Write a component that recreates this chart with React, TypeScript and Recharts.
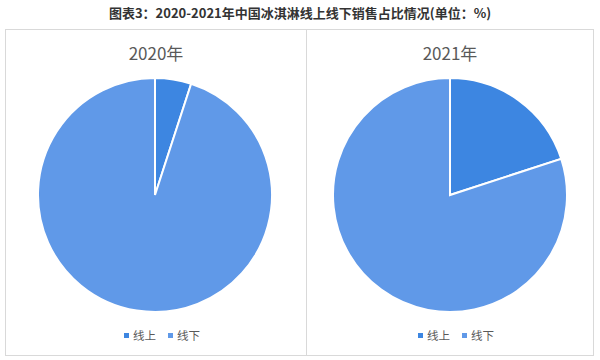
import { PieChart, Pie, Cell, Legend } from "recharts";

// 线上 / 线下 share of ice-cream sales, %
const channels = ["线上", "线下"];
const colors = ["#3d86e1", "#6099e8"];
const share2020 = [5, 95];
const share2021 = [20, 80];
const years = ["2020年", "2021年"];

const FONT = '"Noto Sans CJK SC", "Noto Sans", sans-serif';

function LegendRow({ payload }: any) {
  return (
    <div
      style={{
        display: "flex",
        justifyContent: "center",
        gap: 12,
        fontSize: 11.5,
        color: "#595959",
        fontFamily: FONT,
        lineHeight: "14px",
      }}
    >
      {(payload || []).map((p: any) => (
        <span key={p.value} style={{ display: "flex", alignItems: "center" }}>
          <span
            style={{
              width: 5,
              height: 5,
              background: p.color,
              marginRight: 4,
              display: "inline-block",
            }}
          />
          {p.value}
        </span>
      ))}
    </div>
  );
}

function YearPie({
  year,
  values,
  left,
  width,
  cx,
}: {
  year: string;
  values: number[];
  left: number;
  width: number;
  cx: number;
}) {
  const data = channels.map((name, i) => ({ name, value: values[i] }));
  return (
    <div
      style={{
        position: "absolute",
        left,
        top: 29,
        width,
        height: 327,
        border: "1px solid #d9d9d9",
        boxSizing: "border-box",
      }}
    >
      <div
        style={{
          position: "absolute",
          left: 0,
          right: 0,
          top: 10,
          textAlign: "center",
          fontSize: 17,
          color: "#595959",
          fontFamily: FONT,
        }}
      >
        {year}
      </div>
      <PieChart
        width={width - 2}
        height={325}
        margin={{ top: 0, right: 0, bottom: 0, left: 0 }}
      >
        <Pie
          data={data}
          dataKey="value"
          nameKey="name"
          cx={cx}
          cy={165}
          outerRadius={117}
          startAngle={90}
          endAngle={-270}
          stroke="#fff"
          strokeWidth={2}
          isAnimationActive={false}
        >
          {data.map((d, i) => (
            <Cell key={d.name} fill={colors[i]} />
          ))}
        </Pie>
        <Legend
          verticalAlign="bottom"
          content={<LegendRow />}
          wrapperStyle={{ bottom: 13, left: 6 }}
        />
      </PieChart>
    </div>
  );
}

export default function App() {
  return (
    <div
      style={{
        position: "absolute",
        left: 0,
        top: 0,
        width: 600,
        height: 360,
        background: "#fff",
        fontFamily: FONT,
      }}
    >
      <div
        style={{
          position: "absolute",
          left: 0,
          right: 0,
          top: 3,
          textAlign: "center",
          fontSize: 13,
          fontWeight: "bold",
          color: "#333",
        }}
      >
        图表3：2020-2021年中国冰淇淋线上线下销售占比情况(单位：%)
      </div>
      <YearPie year={years[0]} values={share2020} left={5} width={302} cx={149} />
      <YearPie year={years[1]} values={share2021} left={306} width={288} cx={143} />
    </div>
  );
}
